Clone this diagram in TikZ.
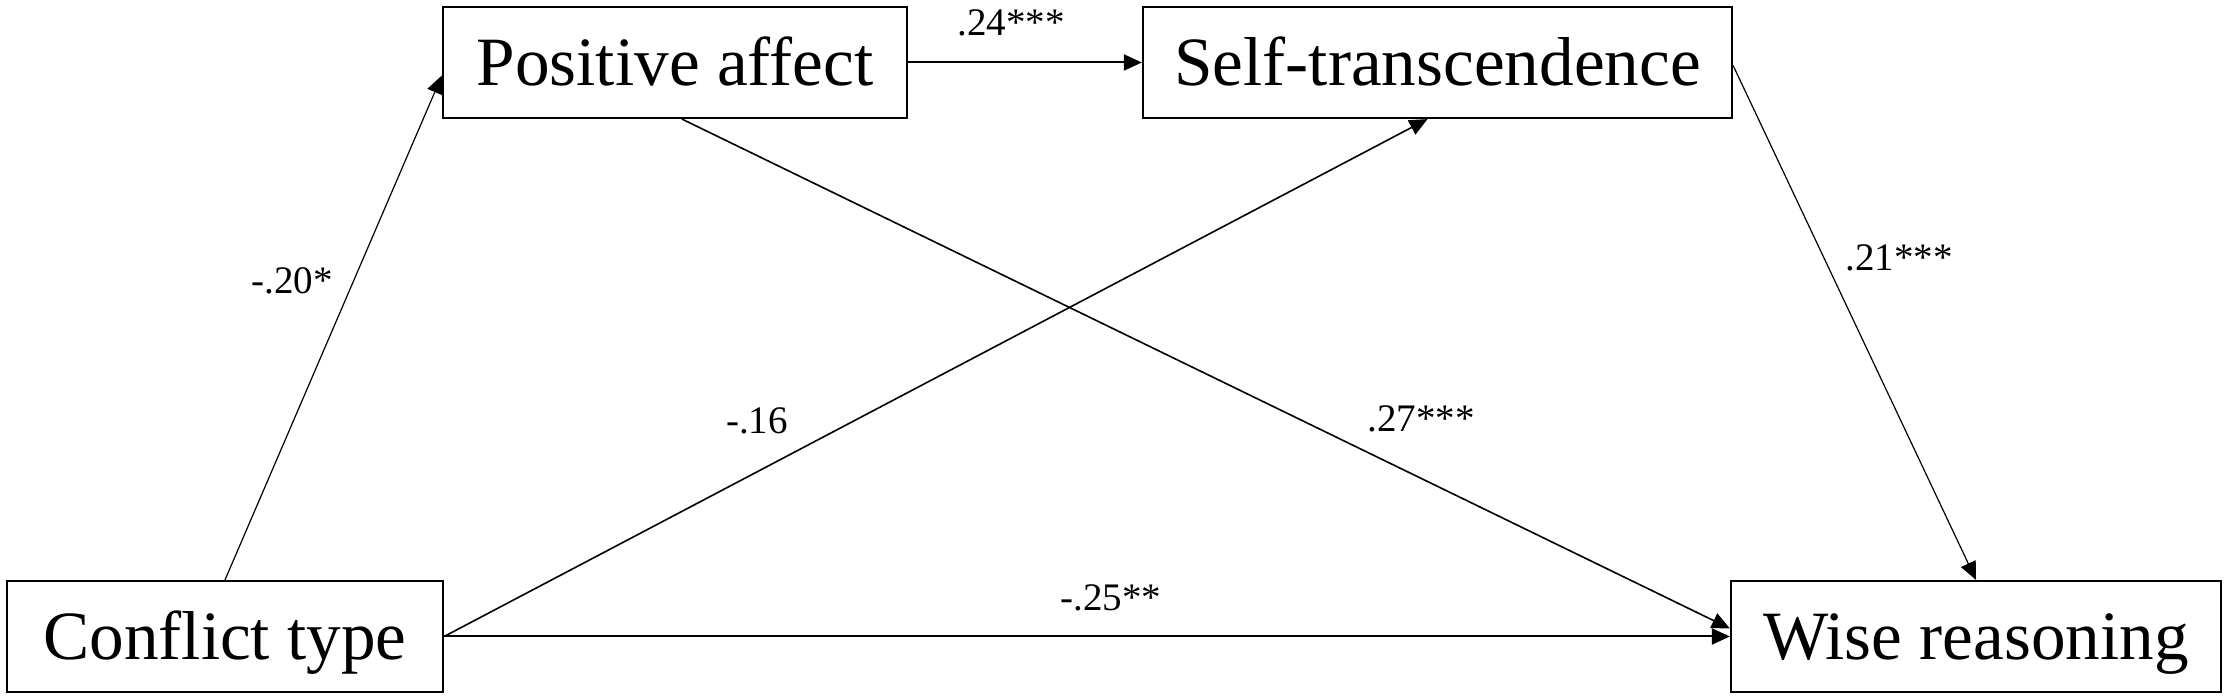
\documentclass[tikz,border=0pt]{standalone}
\usepackage{fontspec}
\setmainfont{Liberation Serif}
\usetikzlibrary{arrows.meta,calc}
\begin{document}
\begin{tikzpicture}[x=0.5pt,y=-0.5pt,
  var/.style={draw,line width=1.1pt,inner sep=0pt,minimum height=55.5pt,
    font=\fontsize{34.6}{40}\selectfont,text height=23pt,text depth=0pt},
  coef/.style={inner sep=0pt,font=\fontsize{19.5}{22}\selectfont},
  conn/.style={-{Triangle[length=9pt,width=8pt]},line width=0.8pt},
  thinconn/.style={-{Triangle[length=9pt,width=8pt]},line width=0.6pt}]
\useasboundingbox (0,0) rectangle (2228,699);
% variables
\node[var,minimum width=232pt] (pa) at (675,62.5) {Positive affect};
\node[var,minimum width=294.5pt] (st) at (1437.5,62.5) {Self-transcendence};
\node[var,minimum width=218pt] (cf) at (225,636.5) {Conflict type};
\node[var,minimum width=245pt] (wr) at (1976,636.5) {Wise reasoning};
% paths
\draw[thinconn] (cf.north) -- ($(pa.west)+(0,13)$);
\draw[conn,line width=1pt] (pa.east) -- (st.west);
\draw[conn] ($(pa.south)+(7,0)$) -- ($(wr.west)+(0,-8)$);
\draw[conn] (cf.east) -- ($(st.south)+(-10,0)$);
\draw[thinconn] ($(st.east)+(0,3)$) -- (wr.north);
\draw[conn,line width=1pt] (cf.east) -- (wr.west);
% coefficients
\node[coef] (c1) at (1011,23) {.24***};
\node[coef] (c2) at (292,281) {-.20*};
\node[coef] (c3) at (757,421) {-.16};
\node[coef] (c4) at (1421,419) {.27***};
\node[coef] (c5) at (1899,258) {.21***};
\node[coef] (c6) at (1111,598) {-.25**};
\end{tikzpicture}
\end{document}
